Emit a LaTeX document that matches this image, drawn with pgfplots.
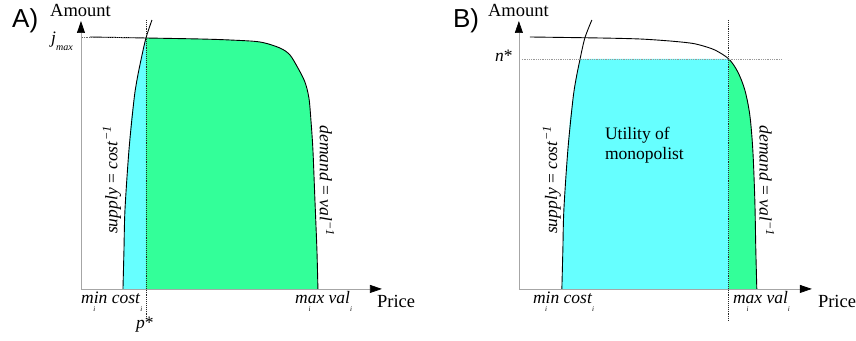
\documentclass[border=0pt]{standalone}
\usepackage{fontspec}
\setmainfont{Liberation Serif}
\newfontfamily\sansf{Liberation Sans}
\usepackage{pgfplots}
\pgfplotsset{compat=1.18}
\usetikzlibrary{arrows.meta}
\definecolor{cy}{RGB}{102,255,255}
\definecolor{gr}{RGB}{51,255,153}
\newcommand\lab{\fontsize{17.5}{20}\selectfont}
\newcommand\labb{\fontsize{18.5}{21}\selectfont}
\newcommand\isub[1]{\raisebox{-8pt}{\fontsize{7}{7}\selectfont\itshape #1}}
\newcommand\undersub[2]{\setbox0\hbox{#1}\rlap{\hbox to \wd0{\hss\raisebox{-8pt}{\fontsize{7}{7}\selectfont\itshape #2}\hss}}\box0\relax}
\pgfplotsset{panel/.style={scale only axis,axis lines=left,xtick=\empty,ytick=\empty,
  clip=false,enlargelimits=false,anchor=south west,
  axis line style={draw=gray!70,line width=0.7pt,-{Triangle[length=12pt,width=8pt,color=black]}}}}
\begin{document}
\begin{tikzpicture}
\path (0,0) rectangle (856pt,341pt);
% ---------------- Panel A
\begin{axis}[panel,at={(81pt,52pt)},width=301pt,height=268pt,xmin=81,xmax=382,ymin=52,ymax=320]
\addplot[fill=cy,draw=none] coordinates {(123,52)(124,91)(125,131)(127,161)(129,191)(131,221)(134,241)(137,261)(141,281)(146,303)(146,52)} -- cycle;
\addplot[fill=gr,draw=none] coordinates {(146,52)(146,303)(200,302)(230,301)(260,299)(270,297)(280,293)(286,290)(290,286)(294,280)(298,273)(302,266)(305,259)(307,251)(309,243)(310,232)(311,221)(312,206)(313,191)(314,166)(315,141)(316,116)(317,91)(318,52)} -- cycle;
\addplot[black,line width=0.9pt,smooth,tension=0.5] coordinates {(90,304)(146,303)(200,302)(230,301)(260,299)(280,293)(290,286)(298,273)(305,259)(309,243)(311,221)(313,191)(315,141)(317,91)(318,52)};
\addplot[black,line width=0.9pt,smooth] coordinates {(123,52)(124,91)(125,131)(129,191)(134,241)(137,261)(141,281)(146,303)(152,321)};
\addplot[densely dotted,black!85,line width=0.9pt] coordinates {(146,321)(146,23)};
\addplot[densely dotted,black!60,line width=0.8pt] coordinates {(82,304)(146,304)};
\end{axis}
% ---------------- Panel B
\begin{axis}[panel,at={(519pt,52pt)},width=293pt,height=268pt,xmin=81,xmax=374,ymin=52,ymax=320]
\addplot[fill=cy,draw=none] coordinates {(124,52)(125,91)(126,131)(128,161)(130,191)(132,221)(135,241)(138,261)(142.5,282)(291,282)(291,52)} -- cycle;
\addplot[fill=gr,draw=none] coordinates {(291,52)(291,282)(296,276)(300,269)(304,260)(307,251)(310,239)(312,226)(314,208)(315,191)(316,166)(317,141)(318,91)(319,52)} -- cycle;
\addplot[black,line width=0.9pt,smooth,tension=0.5] coordinates {(92,304)(162,303)(202,302)(232,300)(252,298)(262,296)(277,291)(291,282)(300,269)(307,251)(312,226)(315,191)(317,141)(318,91)(319,52)};
\addplot[black,line width=0.9pt,smooth] coordinates {(124,52)(125,91)(126,131)(130,191)(135,241)(138,261)(142,281)(147,303)(154,321)};
\addplot[densely dotted,black!85,line width=0.9pt] coordinates {(291,321)(291,19)};
\addplot[densely dotted,black!40,line width=0.8pt] coordinates {(84,282)(344,282)};
\end{axis}
% ---------------- Labels A
\node[anchor=base west,inner sep=0,font=\sansf\fontsize{26}{26}\selectfont] at (12pt,313pt) {A)};
\node[anchor=base west,inner sep=0,font=\labb] at (50pt,324pt) {Amount};
\node[anchor=base west,inner sep=0,font=\lab] at (51pt,297pt) {\textit{j}\raisebox{-7pt}{\fontsize{10}{10}\selectfont\itshape max}};
\node[anchor=base west,inner sep=0,font=\lab] at (81pt,37pt) {\undersub{\textit{min}}{i} \textit{cost}\isub{i}};
\node[anchor=base west,inner sep=0,font=\lab] at (136pt,12pt) {\textit{p}*};
\node[anchor=base west,inner sep=0,font=\lab] at (295pt,37pt) {\undersub{\textit{max}}{i} \textit{val}\isub{i}};
\node[anchor=base west,inner sep=0,font=\labb] at (377pt,33pt) {Price};
\node[rotate=90,inner sep=0,font=\lab] at (112pt,161pt) {\textit{supply} = \textit{cost}\textsuperscript{\textit{−1}}};
\node[rotate=-90,inner sep=0,font=\lab] at (327pt,160pt) {\textit{demand} = \textit{val}\textsuperscript{\textit{−1}}};
% ---------------- Labels B
\node[anchor=base west,inner sep=0,font=\sansf\fontsize{26}{26}\selectfont] at (453pt,313pt) {B)};
\node[anchor=base west,inner sep=0,font=\labb] at (488pt,324pt) {Amount};
\node[anchor=base west,inner sep=0,font=\lab] at (495pt,279pt) {\textit{n}*};
\node[anchor=base west,inner sep=0,font=\lab] at (533pt,37pt) {\undersub{\textit{min}}{i} \textit{cost}\isub{i}};
\node[anchor=base west,inner sep=0,font=\lab] at (733pt,37pt) {\undersub{\textit{max}}{i} \textit{val}\isub{i}};
\node[anchor=base west,inner sep=0,font=\labb] at (818pt,33pt) {Price};
\node[rotate=90,inner sep=0,font=\lab] at (552pt,161pt) {\textit{supply} = \textit{cost}\textsuperscript{\textit{−1}}};
\node[rotate=-90,inner sep=0,font=\lab] at (767pt,160pt) {\textit{demand} = \textit{val}\textsuperscript{\textit{−1}}};
\node[anchor=north west,inner sep=0,align=left,font=\lab] at (605pt,214pt) {Utility of\\monopolist};
\end{tikzpicture}
\end{document}
